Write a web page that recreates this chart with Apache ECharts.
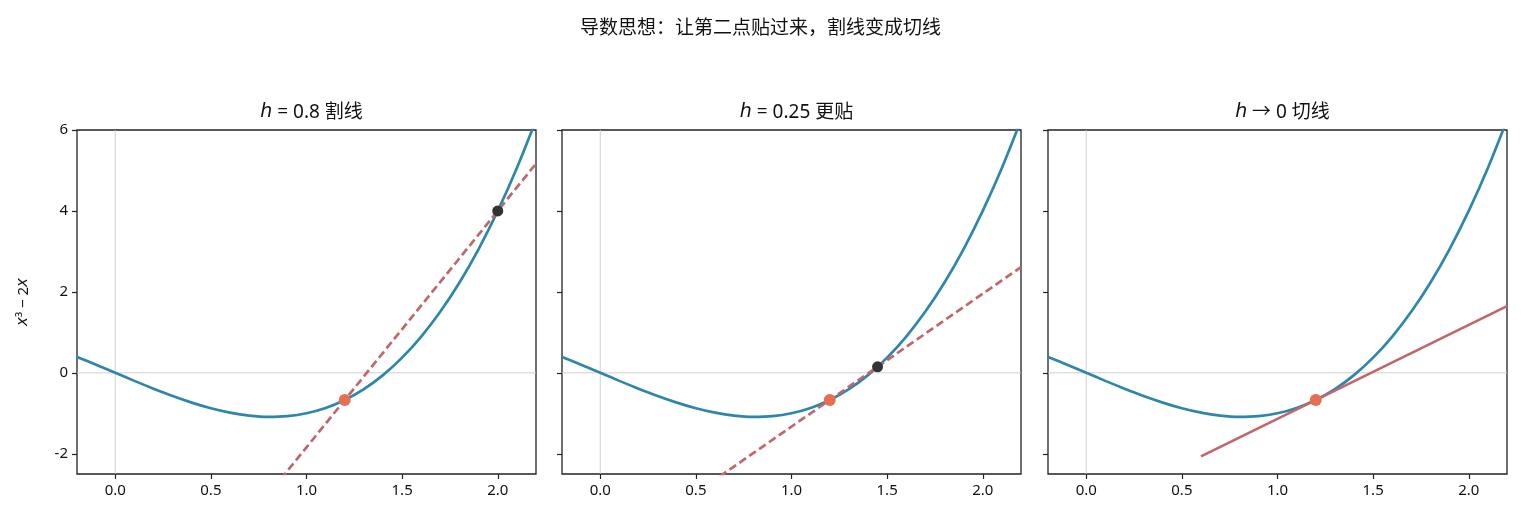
<!DOCTYPE html>
<html>
<head>
<meta charset="utf-8">
<script src="https://cdn.jsdelivr.net/npm/echarts@6/dist/echarts.min.js"></script>
<style>
  html, body { margin: 0; padding: 0; background: #fff; }
  #chart { width: 1521px; height: 524px; }
</style>
</head>
<body>
<div id="chart"></div>
<script>
// curve samples of x^3 - 2x
const curveX = [-0.2, -0.1, 0.0, 0.1, 0.2, 0.3, 0.4, 0.5, 0.6, 0.7, 0.8, 0.9, 1.0,
                1.1, 1.2, 1.3, 1.4, 1.5, 1.6, 1.7, 1.8, 1.9, 2.0, 2.1, 2.2];
const curveY = [0.392, 0.199, 0.0, -0.199, -0.392, -0.573, -0.736, -0.875, -0.984, -1.057, -1.088, -1.071, -1.0,
                -0.869, -0.672, -0.403, -0.056, 0.375, 0.896, 1.513, 2.232, 3.059, 4.0, 5.061, 6.248];

// base point x0 = 1.2
const basePoint = [1.2, -0.672];

// panel titles
const panelTitles = ['{i|h} = 0.8 割线', '{i|h} = 0.25 更贴', '{i|h} → 0 切线'];

// second points (none on the tangent panel)
const secondPoints = [[2.0, 4.0], [1.45, 0.149], null];

// straight line endpoints for each panel: [x, y] pairs
const lineEnds = [
    [[-0.2, -8.848], [2.2, 5.168]],
    [[-0.2, -5.268], [2.2, 2.611]],
    [[0.6, -2.064], [2.2, 1.648]]
];
const lineDashed = [true, true, false];

const xTicks = [0, 0.5, 1.0, 1.5, 2.0];
const yTicks = [-2, 0, 2, 4, 6];

const chart = echarts.init(document.getElementById('chart'));

const fontFamily = '"Noto Sans", "Noto Sans CJK SC", sans-serif';
const cjkFamily = '"Noto Sans CJK SC", "Noto Sans", sans-serif';
const panelLeft = [77, 562, 1048];
const panelWidth = 459;

const grids = [];
const xAxes = [];
const yAxes = [];
const titles = [{
    text: '导数思想：让第二点贴过来，割线变成切线',
    left: 'center',
    top: 12,
    textStyle: { fontFamily: cjkFamily, fontSize: 19, fontWeight: 'normal', color: '#111' }
}];
const series = [];

for (let i = 0; i < 3; i++) {
    grids.push({
        left: panelLeft[i], top: 130, width: panelWidth, height: 344,
        show: true, borderColor: '#222', borderWidth: 1.3, backgroundColor: 'transparent'
    });
    titles.push({
        text: panelTitles[i],
        left: panelLeft[i] + panelWidth / 2,
        textAlign: 'center',
        top: 98,
        textStyle: {
            fontFamily: fontFamily, fontSize: 19, fontWeight: 'normal', color: '#111',
            rich: { i: { fontStyle: 'italic', fontSize: 19, fontFamily: 'DejaVu Sans', color: '#111' } }
        }
    });
    xAxes.push({
        type: 'value', gridIndex: i, min: -0.2, max: 2.2,
        axisLine: { show: false, onZero: false },
        splitLine: { show: false },
        axisTick: { show: true, customValues: xTicks, length: 5, lineStyle: { color: '#222', width: 1.2 } },
        axisLabel: {
            customValues: xTicks, margin: 9, fontSize: 15, color: '#111', fontFamily: fontFamily,
            formatter: (v) => v.toFixed(1)
        }
    });
    yAxes.push({
        type: 'value', gridIndex: i, min: -2.5, max: 6,
        axisLine: { show: false, onZero: false },
        splitLine: { show: false },
        name: i === 0 ? '{i|x}³ − 2{i|x}' : '',
        nameLocation: 'middle',
        nameRotate: 90,
        nameGap: 46,
        nameTextStyle: {
            fontFamily: fontFamily, fontSize: 15, color: '#111',
            rich: { i: { fontStyle: 'italic', fontSize: 15, fontFamily: 'DejaVu Sans', color: '#111' } }
        },
        axisTick: { show: true, customValues: yTicks, length: 5, lineStyle: { color: '#222', width: 1.2 } },
        axisLabel: {
            show: i === 0, customValues: yTicks, margin: 9, fontSize: 15, color: '#111', fontFamily: fontFamily,
            formatter: (v) => String(v)
        }
    });

    // reference lines at x = 0 and y = 0
    series.push({
        type: 'line', xAxisIndex: i, yAxisIndex: i, silent: true, symbol: 'none',
        data: [[0, -2.5], [0, 6]],
        lineStyle: { color: '#cccccc', width: 0.9 }, z: 1
    });
    series.push({
        type: 'line', xAxisIndex: i, yAxisIndex: i, silent: true, symbol: 'none',
        data: [[-0.2, 0], [2.2, 0]],
        lineStyle: { color: '#cccccc', width: 0.9 }, z: 1
    });
    // curve
    series.push({
        type: 'line', xAxisIndex: i, yAxisIndex: i, symbol: 'none', smooth: 0.3,
        data: curveX.map((x, k) => [x, curveY[k]]),
        lineStyle: { color: '#2E86AB', width: 2.7 }, z: 3
    });
    // secant / tangent
    series.push({
        type: 'line', xAxisIndex: i, yAxisIndex: i, symbol: 'none',
        data: lineEnds[i],
        lineStyle: { color: '#C1666B', width: 2.7, type: lineDashed[i] ? [8, 4] : 'solid' }, z: 4
    });
    // base point
    series.push({
        type: 'scatter', xAxisIndex: i, yAxisIndex: i, symbolSize: 12,
        data: [basePoint],
        itemStyle: { color: '#E76F51', opacity: 1 }, z: 5
    });
    if (secondPoints[i]) {
        series.push({
            type: 'scatter', xAxisIndex: i, yAxisIndex: i, symbolSize: 11,
            data: [secondPoints[i]],
            itemStyle: { color: '#333333', opacity: 1 }, z: 5
        });
    }
}

chart.setOption({
    backgroundColor: '#fff',
    animation: false,
    title: titles,
    grid: grids,
    xAxis: xAxes,
    yAxis: yAxes,
    series: series
});
</script>
</body>
</html>
